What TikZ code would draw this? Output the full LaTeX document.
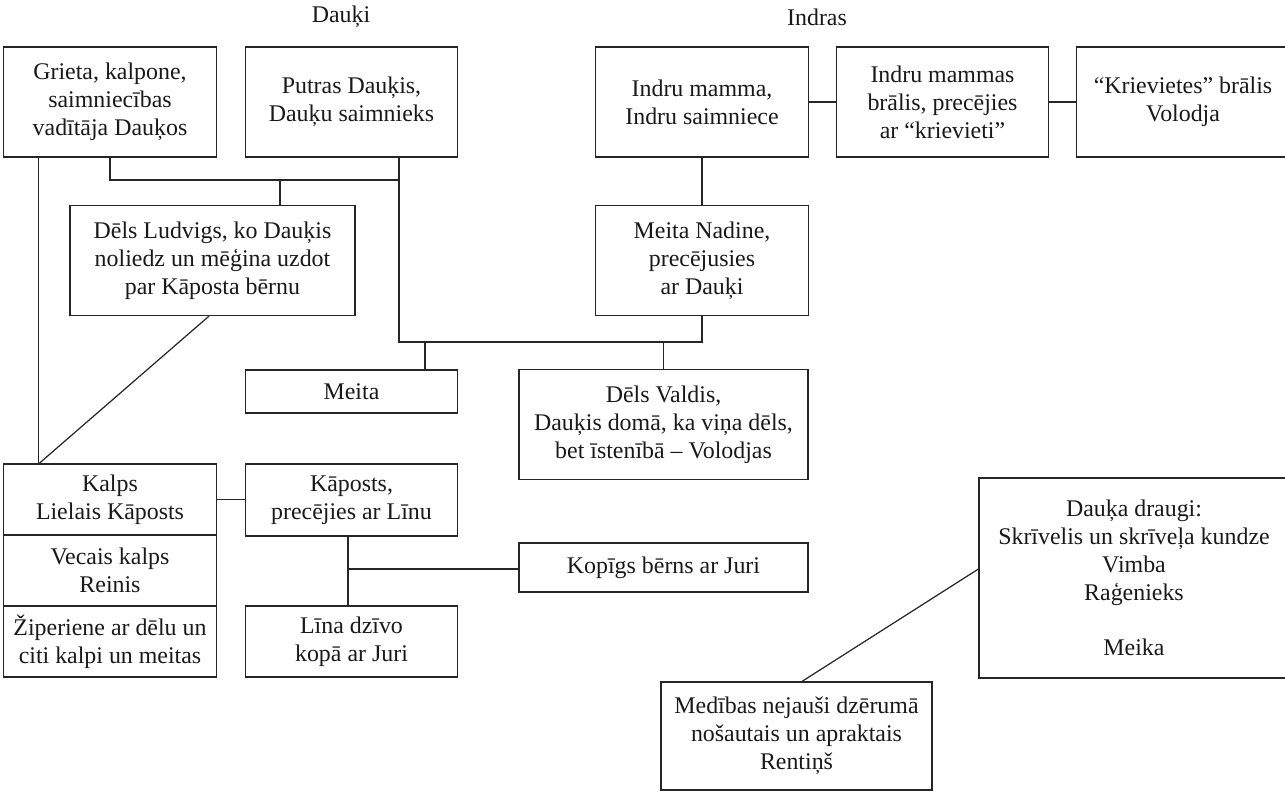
\documentclass[tikz,border=0pt]{standalone}
\usepackage{fontspec}
\setmainfont{Liberation Serif}
\usetikzlibrary{calc}

\tikzset{
  box/.style={draw=black!85, line width=0.7pt, align=center, inner sep=0pt,
    text=black!90, font=\fontsize{13.6}{15.9}\selectfont},
  tall/.style={box, minimum height=2.2cm},
  wide/.style={minimum width=4.25cm},
  title/.style={text=black!90, font=\fontsize{13.6}{15.9}\selectfont},
  link/.style={draw=black!85, line width=0.7pt},
}

\begin{document}
\begin{tikzpicture}[x=0.02cm, y=-0.02cm]
  \useasboundingbox (0,0) rectangle (1285,792);

  \node[title] (tdauki) at (341,17) {Dauķi};
  \node[title] (tindras) at (817,17) {Indras};

  % top row
  \node[tall, wide] (grieta) at (110,102) {Grieta, kalpone,\\saimniecības\\vadītāja Dauķos};
  \node[tall, wide] (putras) at (351.5,102) {Putras Dauķis,\\Dauķu saimnieks};
  \node[tall, wide] (mamma) at (702,102) {Indru mamma,\\Indru saimniece};
  \node[tall, wide] (bralis) at (942.5,102) {Indru mammas\\brālis, precējies\\ar “krievieti”};
  \node[tall, wide] (volodja) at (1183,102) {“Krievietes” brālis\\Volodja};

  % children
  \node[tall, minimum width=5.7cm] (ludvigs) at (212.5,260.5) {Dēls Ludvigs, ko Dauķis\\noliedz un mēģina uzdot\\par Kāposta bērnu};
  \node[tall, wide] (nadine) at (702,260.5) {Meita Nadine,\\precējusies\\ar Dauķi};
  \node[box, wide, minimum height=0.86cm] (meita) at (351.5,391.5) {Meita};
  \node[tall, minimum width=5.78cm] (valdis) at (663.5,424.5) {Dēls Valdis,\\Dauķis domā, ka viņa dēls,\\bet īstenībā – Volodjas};

  % servants
  \node[box, wide, minimum height=1.42cm] (kalps) at (110,499.5) {Kalps\\Lielais Kāposts};
  \node[box, wide, minimum height=1.42cm] (reinis) at (110,570.5) {Vecais kalps\\Reinis};
  \node[box, wide, minimum height=1.42cm] (ziper) at (110,641.5) {Žiperiene ar dēlu un\\citi kalpi un meitas};
  \node[box, wide, minimum height=1.44cm] (kaposts) at (351.5,500) {Kāposts,\\precējies ar Līnu};
  \node[box, wide, minimum height=1.42cm] (lina) at (351.5,641.5) {Līna dzīvo\\kopā ar Juri};
  \node[box, minimum width=5.78cm, minimum height=0.98cm] (kopigs) at (663.5,567.5) {Kopīgs bērns ar Juri};

  % friends
  \node[box, minimum width=6.2cm, minimum height=4cm] (draugi) at (1134,578) {Dauķa draugi:\\Skrīvelis un skrīveļa kundze\\Vimba\\Raģenieks\\[0.54cm]Meika};
  \node[box, minimum width=5.42cm, minimum height=2.16cm] (rentins) at (796.5,736) {Medības nejauši dzērumā\\nošautais un apraktais\\Rentiņš};

  \coordinate (dk) at (399,180);
  \coordinate (dn) at (399,342);
  \coordinate (lj) at (280,180);
  \coordinate (mj) at (425,342);
  \coordinate (kj) at (348,569);

  \draw[link] (grieta.south) |- (dk) -- (dk |- putras.south);
  \draw[link] (dk) -- (dn) -| (nadine.south);
  \draw[link] (lj) -- (lj |- ludvigs.north);
  \draw[link] (mj) -- (mj |- meita.north);
  \draw[link] (valdis.north) -- (valdis.north |- dn);
  \draw[link] (mamma) -- (bralis) -- (volodja);
  \draw[link] (mamma.south) -- (nadine.north);
  \draw[link] ($(grieta.south west)+(35,0)$) -- ($(kalps.north west)+(35,0)$);
  \draw[link] ($(ludvigs.south)+(-3.5,0)$) -- ($(kalps.north west)+(36,0)$);
  \draw[link] (kalps.east) -- (kalps.east -| kaposts.west);
  \draw[link] (kaposts.south -| kj) -- (lina.north -| kj);
  \draw[link] (kj) -- (kopigs.west |- kj);
  \draw[link] ($(rentins.north)+(5.5,0)$) -- ($(draugi.west)+(0,-9)$);
\end{tikzpicture}
\end{document}
